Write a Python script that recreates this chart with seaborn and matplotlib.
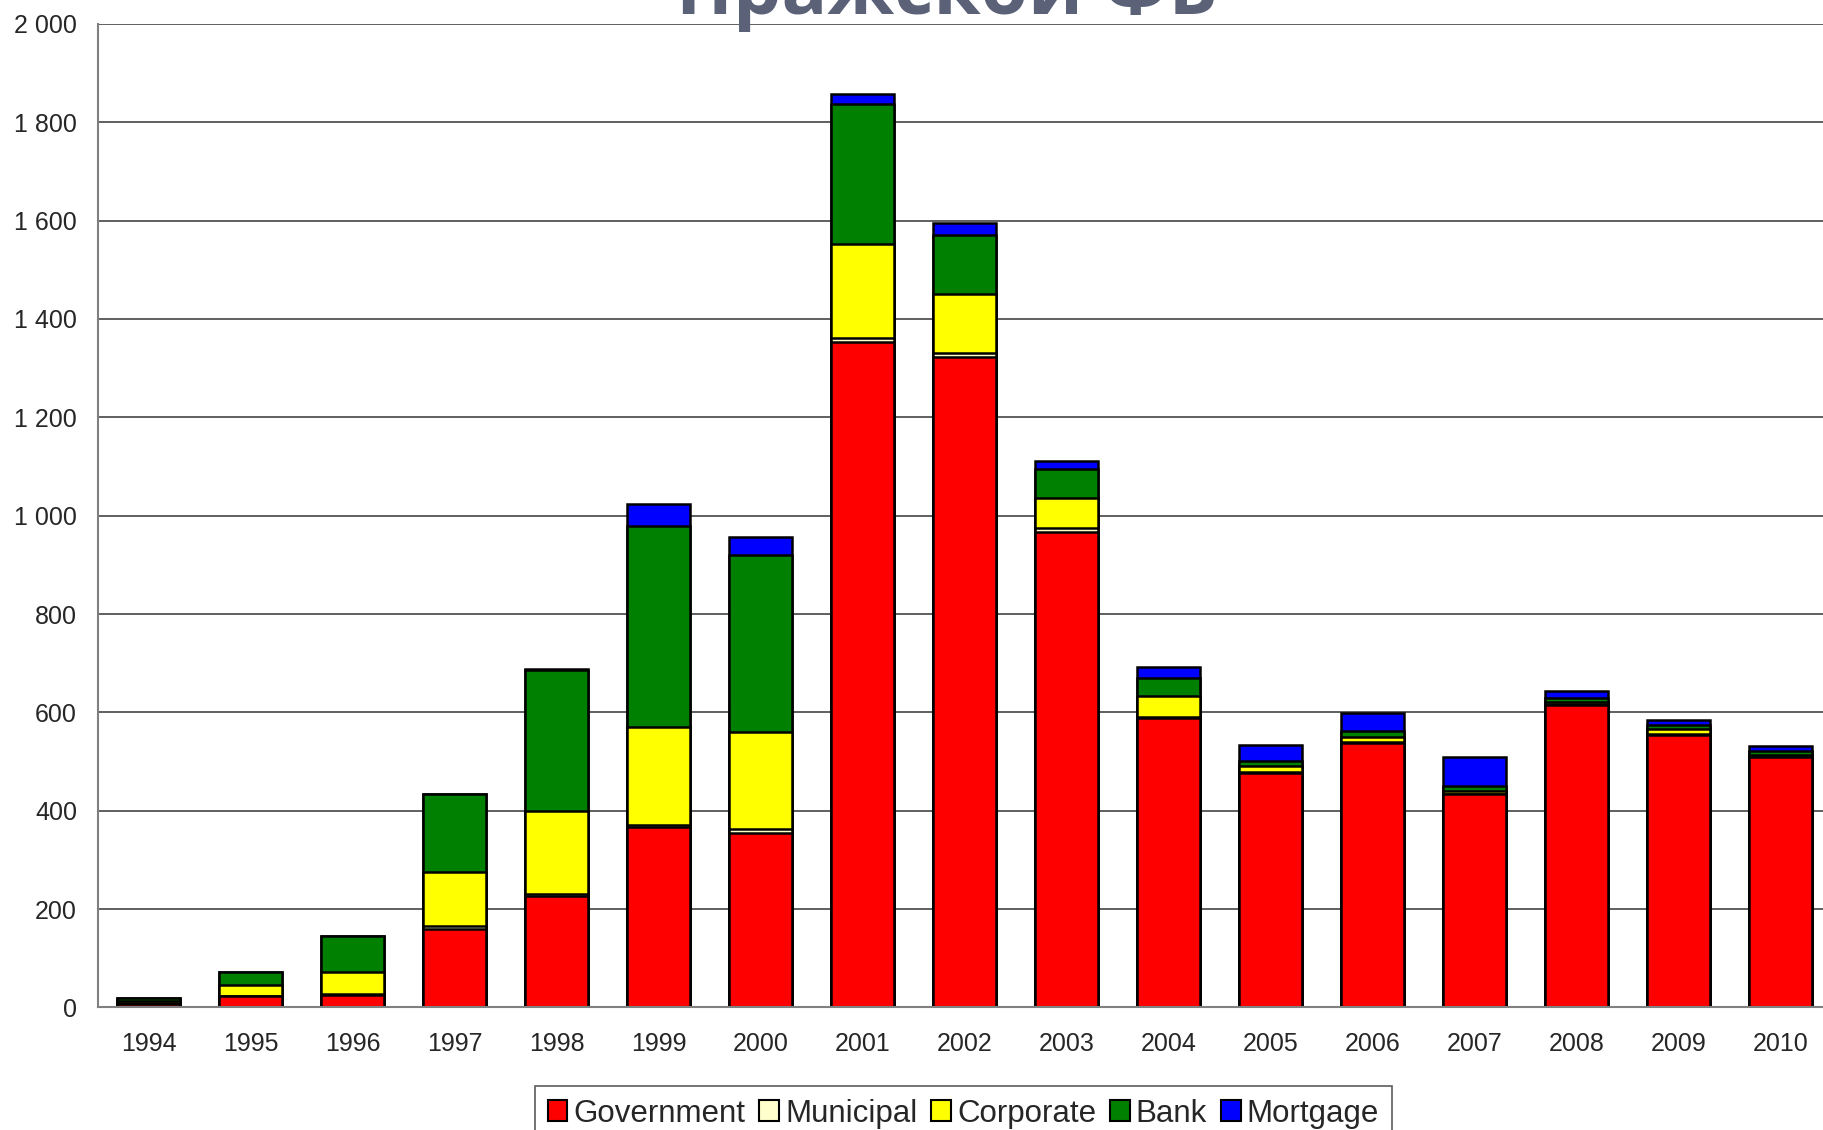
import matplotlib
matplotlib.use('Agg')
import matplotlib.pyplot as plt
from matplotlib.patches import Patch
from matplotlib.ticker import FuncFormatter, FixedLocator
import seaborn as sns
import pandas as pd
import numpy as np

# Bond issues by type, per year
years = ['1994', '1995', '1996', '1997', '1998', '1999', '2000', '2001', '2002',
         '2003', '2004', '2005', '2006', '2007', '2008', '2009', '2010']
government = [7, 23, 25, 160, 227, 366, 354, 1353, 1323, 967, 589, 476, 537, 433, 615, 554, 509]
municipal = [1, 0, 3, 5, 4, 5, 8, 8, 8, 7, 2, 2, 2, 1, 3, 2, 1]
corporate = [6, 23, 44, 110, 168, 199, 198, 191, 120, 61, 42, 12, 10, 6, 3, 10, 3]
bank = [5, 26, 73, 158, 287, 409, 360, 285, 120, 59, 36, 12, 13, 11, 8, 8, 9]
mortgage = [0, 0, 0, 0, 2, 45, 37, 21, 25, 17, 24, 31, 37, 58, 15, 11, 9]

series = ['Government', 'Municipal', 'Corporate', 'Bank', 'Mortgage']
colors = ['#FF0000', '#FFFFCC', '#FFFF00', '#008000', '#0000FF']

df = pd.DataFrame({'Year': years, 'Government': government, 'Municipal': municipal,
                   'Corporate': corporate, 'Bank': bank, 'Mortgage': mortgage})
cum = df[series].cumsum(axis=1)

sns.set_style('white')
plt.rcParams['font.family'] = ['Liberation Sans', 'DejaVu Sans']

fig = plt.figure(figsize=(18.23, 11.30), dpi=100)
ax = fig.add_axes([0.0536, 0.1085, 0.951, 0.8703])

# stacked bars: draw cumulative totals from the top down
for name, col in zip(series[::-1], colors[::-1]):
    sns.barplot(x=df['Year'], y=cum[name], color=col, edgecolor='black',
                linewidth=1.8, width=0.62, errorbar=None, saturation=1, ax=ax)

ax.set_xlim(-0.5, 16.5)
ax.set_ylim(0, 2000)
ax.set_yticks(np.arange(0, 2001, 200))
ax.yaxis.set_major_formatter(FuncFormatter(lambda v, p: f'{int(v):,}'.replace(',', ' ')))
ax.set_xlabel('')
ax.set_ylabel('')

ax.grid(axis='y', color='#444444', linewidth=1.2)
ax.set_axisbelow(True)
for s in ['top', 'right']:
    ax.spines[s].set_visible(False)
for s in ['left', 'bottom']:
    ax.spines[s].set_color('#808080')
    ax.spines[s].set_linewidth(1.5)

ax.tick_params(axis='y', direction='out', length=8, color='#808080', width=1.5,
               labelsize=18, pad=7)
ax.tick_params(axis='x', which='major', length=0, labelsize=18, pad=18)
ax.xaxis.set_minor_locator(FixedLocator(np.arange(-0.5, 17, 1)))
ax.tick_params(axis='x', which='minor', direction='out', length=8, color='#808080', width=1.5)

handles = [Patch(facecolor=c, edgecolor='black', linewidth=1.5, label=n) for n, c in zip(series, colors)]
leg = fig.legend(handles=handles, loc='upper center', bbox_to_anchor=(0.5285, 0.0389),
                 ncol=5, fontsize=22.5, frameon=True, fancybox=False,
                 handlelength=0.62, handleheight=0.62, handletextpad=0.2,
                 columnspacing=0.45, borderpad=0.4, borderaxespad=0)
leg.get_frame().set_edgecolor('#333333')
leg.get_frame().set_linewidth(1.2)

# title, cut off by the top edge of the picture
fig.text(0.5195, 1 - 14 / 1130, 'Пражской ФБ', ha='center', va='baseline',
         fontsize=55, fontweight='bold', color='#5B6278', family=['Open Sans', 'DejaVu Sans'])

fig.savefig('out.png', dpi=100)
